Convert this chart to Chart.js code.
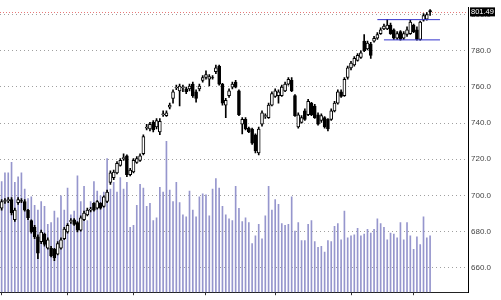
<!DOCTYPE html>
<html><head><meta charset="utf-8">
<script src="https://cdn.jsdelivr.net/npm/chart.js@4/dist/chart.umd.min.js"></script>
<style>html,body{margin:0;padding:0;background:#fff;}#wrap{width:501px;height:300px;position:relative;}</style>
</head><body><div id="wrap"><canvas id="c" width="501" height="300"></canvas></div>
<script>
const months = ['Jan','Feb','Mar','Apr','May','Jun','Jul'];
const tradingDays = [20,20,22,21,23,19,6];
const emptySlots = 11;

const opens = [692.9,696.6,697.1,697.6,686.5,696.0,697.1,696.6,691.8,686.0,682.3,677.0,674.4,678.6,670.7,670.7,670.2,667.5,670.7,676.0,679.7,685.5,686.5,684.9,680.7,686.5,689.2,691.8,695.5,692.9,695.5,693.9,696.6,707.1,709.8,712.4,716.6,
720.3,721.9,711.4,712.9,718.2,719.3,723.0,737.2,736.7,740.4,737.8,735.1,744.6,744.1,748.8,753.6,759.4,757.8,759.4,758.9,758.9,761.5,757.3,758.9,763.6,765.2,764.2,765.2,768.4,771.5,761.5,749.9,755.2,759.9,762.6,757.8,739.3,742.0,737.2,736.7,733.5,723.5,739.3,743.6,743.0,749.9,754.7,755.2,755.2,757.8,761.5,763.6,755.2,737.8,740.4,746.7,744.6,751.0,749.4,744.6,741.4,743.0,742.0,742.0,746.7,751.0,757.3,755.2,765.2,770.5,772.1,774.7,776.3,785.3,781.0,783.7,785.3,786.9,789.5,792.1,792.1,794.2,791.6,786.9,790.6,786.9,
789.0,789.5,794.2,791.6,786.3,796.9,797.4,802.2];
const highs = [697.6,698.2,698.7,698.7,692.9,698.7,698.2,697.6,692.3,686.5,683.4,678.1,680.7,679.1,676.5,671.8,670.7,674.4,676.5,682.3,684.4,687.1,687.1,685.5,688.6,691.3,692.9,693.4,696.0,697.1,696.0,699.7,702.9,713.5,714.0,718.7,720.3,
723.0,722.4,715.0,720.3,721.4,723.0,733.5,739.3,740.4,741.4,742.5,742.5,746.7,746.7,751.0,758.4,761.0,761.5,761.0,759.9,761.5,762.6,758.4,761.5,766.3,768.9,766.8,766.3,772.1,772.1,762.0,753.6,758.9,762.6,763.6,758.4,743.0,743.0,737.8,737.2,734.0,737.8,746.7,745.1,751.0,757.3,758.9,758.4,761.0,762.6,765.2,765.2,755.7,745.7,744.1,747.8,753.1,751.5,750.4,745.7,745.1,743.6,742.5,747.8,752.0,758.4,758.4,765.2,771.5,774.2,776.8,778.4,780.0,789.0,785.3,784.7,787.9,790.0,792.7,794.8,797.4,795.3,792.1,790.6,791.1,790.6,
793.2,796.9,794.8,793.2,796.4,800.6,801.1,802.7];
const lows = [691.8,695.5,696.0,689.2,685.5,695.0,696.0,691.3,686.5,679.1,676.0,664.9,673.3,671.8,670.2,665.9,663.8,667.0,670.2,675.4,679.1,684.4,683.4,679.7,680.2,686.0,688.6,690.8,691.3,692.3,692.3,693.4,696.0,706.1,708.7,711.9,716.1,
719.3,710.3,710.8,712.4,717.7,718.7,722.4,736.2,735.6,735.1,736.7,733.5,743.6,743.6,747.8,751.0,758.4,749.4,757.3,756.3,757.8,754.1,751.5,757.8,762.6,764.2,760.5,764.2,767.3,761.0,749.9,743.0,754.1,758.9,759.4,744.1,734.0,736.2,734.6,728.2,723.5,722.4,738.3,742.5,742.5,749.4,754.1,751.0,754.7,757.3,761.0,757.3,743.6,737.2,739.9,741.4,744.1,744.1,742.5,738.8,740.4,737.2,735.6,741.4,746.2,750.4,754.1,754.7,764.2,769.4,771.5,774.2,775.8,779.5,780.5,775.8,784.7,786.3,789.0,791.6,791.6,789.0,786.3,786.3,785.8,786.3,
787.9,789.0,790.0,785.8,785.8,796.4,796.9,799.5];
const closes = [696.6,697.1,697.6,690.2,691.8,697.6,696.8,691.8,687.6,679.7,677.0,668.0,679.7,672.8,675.4,666.5,665.4,673.3,675.4,681.3,683.4,686.0,683.9,680.7,687.6,690.2,691.8,692.3,691.8,696.6,692.9,699.2,701.8,712.4,712.9,717.7,719.3,
720.9,711.4,714.0,719.3,720.3,721.9,732.5,737.8,739.3,736.2,741.4,740.9,745.1,745.7,749.9,757.3,759.9,760.5,759.9,757.3,760.5,755.2,753.6,760.5,765.2,766.8,765.7,764.9,770.5,761.5,751.0,752.5,757.8,761.5,759.9,744.6,742.0,736.7,735.1,728.8,724.6,736.7,745.7,744.1,749.9,756.3,757.8,757.3,759.9,761.5,764.2,757.8,744.1,744.6,743.0,742.0,752.0,744.6,743.0,739.3,744.1,737.8,736.7,746.7,751.0,757.3,754.7,764.2,770.5,773.1,775.8,777.4,778.9,780.0,784.2,777.4,786.9,789.0,791.6,793.7,794.2,789.5,786.9,789.5,786.3,789.5,
791.6,795.8,790.6,786.3,795.8,799.5,800.0,801.49];
const volumes = [1160,1250,1250,1360,1150,1210,1250,1080,980,1000,910,860,950,900,710,730,850,780,1010,860,1090,810,850,1220,950,1110,750,950,1160,1060,1010,1050,1400,1080,1150,1050,1200,1080,1150,680,700,910,1130,1090,900,930,750,780,1100,1050,
1580,1070,950,1150,940,810,790,1060,860,790,1000,1030,1020,800,1080,1190,1090,900,810,770,750,1110,880,740,780,730,510,590,710,560,800,1110,860,970,920,720,700,710,1000,640,730,540,540,710,750,530,470,480,420,540,
530,690,720,550,850,570,590,600,670,590,610,660,620,660,770,720,680,550,620,610,570,730,550,730,590,450,580,500,790,570,590];
const priceTicks = [660,680,700,720,740,760,780,800];
const resistance = {from:114, to:133, price:797.2};
const support = {from:116, to:133, price:786.0};
const lastPrice = 801.49;

// categories
const labels = [];
const monthStarts = [];
months.forEach((m, k) => {
  monthStarts.push(labels.length);
  for (let d = 1; d <= tradingDays[k]; d++) labels.push(m + ' ' + d);
});
for (let k = 0; k < emptySlots; k++) labels.push('');

function lineData(seg) {
  return labels.map((_, i) => (i === seg.from || i === seg.to) ? seg.price : null);
}

const lastTag = {
  id: 'lastTag',
  beforeDatasetsDraw(chart) {
    const {ctx, chartArea, scales} = chart;
    const y = Math.round(scales.y.getPixelForValue(lastPrice)) + 0.5;
    ctx.save();
    ctx.strokeStyle = '#e87a7a';
    ctx.lineWidth = 1;
    ctx.setLineDash([1, 2]);
    ctx.beginPath();
    ctx.moveTo(chartArea.left, y);
    ctx.lineTo(chartArea.right, y);
    ctx.stroke();
    ctx.restore();
  },
  afterDraw(chart) {
    const {ctx, chartArea, scales} = chart;
    const y = scales.y.getPixelForValue(lastPrice);
    ctx.save();
    ctx.fillStyle = '#000';
    ctx.fillRect(chartArea.right + 2, y - 4.5, 25, 9);
    ctx.fillStyle = '#fff';
    ctx.font = '7.5px "Liberation Sans", Arial, sans-serif';
    ctx.textBaseline = 'middle';
    ctx.textAlign = 'left';
    ctx.fillText(lastPrice.toFixed(2), chartArea.right + 3, y + 0.5);
    ctx.restore();
  }
};

new Chart(document.getElementById('c'), {
  type: 'bar',
  data: {
    labels,
    datasets: [
      { type: 'line', data: lineData(resistance), borderColor: '#3333cc', borderWidth: 1, pointRadius: 0, spanGaps: true, yAxisID: 'y', order: 1 },
      { type: 'line', data: lineData(support), borderColor: '#3333cc', borderWidth: 1, pointRadius: 0, spanGaps: true, yAxisID: 'y', order: 1 },
      { data: opens.map((o, i) => [o, closes[i]]), yAxisID: 'y', grouped: false, barThickness: 3,
        backgroundColor: opens.map((o, i) => closes[i] >= o ? '#ffffff' : '#000000'),
        borderColor: '#000', borderWidth: 1, borderSkipped: false, order: 2 },
      { data: lows.map((l, i) => [l, highs[i]]), yAxisID: 'y', grouped: false, barThickness: 1,
        backgroundColor: '#000', borderWidth: 0, order: 3 },
      { data: volumes, yAxisID: 'vol', grouped: false, barThickness: 1,
        backgroundColor: 'rgb(150,150,205)', borderWidth: 0, order: 4 }
    ]
  },
  options: {
    responsive: false,
    animation: false,
    events: [],
    layout: { padding: 0 },
    plugins: { legend: { display: false }, tooltip: { enabled: false } },
    scales: {
      x: {
        type: 'category',
        offset: true,
        grid: { offset: false, drawOnChartArea: false, drawTicks: true, tickLength: 3,
          color: (c) => monthStarts.includes(c.index) ? '#333' : 'rgba(0,0,0,0)' },
        border: { display: true, color: '#222', width: 1 },
        ticks: { display: false, autoSkip: false },
        afterFit: (s) => { s.height = 2; }
      },
      y: {
        position: 'right',
        min: 646.4, max: 803.75,
        afterBuildTicks: (s) => { s.ticks = priceTicks.map(v => ({ value: v })); },
        grid: { color: '#a0a0a0', drawTicks: false, lineWidth: 1 },
        border: { display: true, color: '#000', width: 1, dash: [1, 3] },
        ticks: { padding: 3, color: '#444', font: { size: 8, family: '"Liberation Sans", Arial, sans-serif' },
          callback: (v) => Number(v).toFixed(1) },
        afterFit: (s) => { s.width = 33; }
      },
      vol: { display: false, min: 0, max: 2980 }
    }
  },
  plugins: [lastTag]
});
</script></body></html>
